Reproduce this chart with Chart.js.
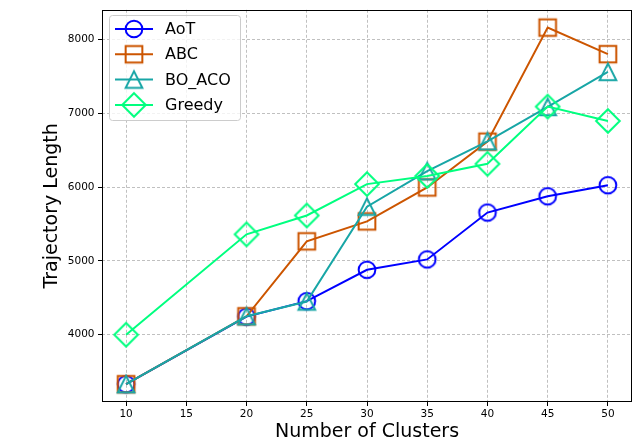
<!DOCTYPE html>
<html><head><meta charset="utf-8">
<script src="https://cdn.jsdelivr.net/npm/chart.js@4.4.0/dist/chart.umd.min.js"></script>
<style>html,body{margin:0;padding:0;background:#fff}#wrap{width:636px;height:443px;position:relative}</style>
</head><body><div id="wrap"><canvas id="c" width="636" height="443"></canvas></div>
<script>
// ---- data ----
const clusters = [10, 20, 25, 30, 35, 40, 45, 50];
const aot    = [3330, 4245, 4455, 4880, 5020, 5655, 5875, 6025];
const abc    = [3330, 4250, 5265, 5535, 5995, 6615, 8160, 7800];
const boaco  = [3330, 4250, 4450, 5735, 6215, 6620, 7085, 7560];
const greedy = [4000, 5360, 5615, 6040, 6150, 6315, 7090, 6895];
const seriesNames = ['AoT', 'ABC', 'BO_ACO', 'Greedy'];
const xTicks = [10, 15, 20, 25, 30, 35, 40, 45, 50];
const yTicks = [4000, 5000, 6000, 7000, 8000];
const xTitle = 'Number of Clusters';
const yTitle = 'Trajectory Length';

// ---- styles ----
const colors = ['#0000ff', '#cc5500', '#18a6a6', '#00ff7f'];
const shapes = ['circle', 'square', 'triangle', 'diamond'];
const FONT = "'DejaVu Sans', sans-serif";

function makeMarker(shape, color) {
  const s = 32, c = document.createElement('canvas');
  c.width = s; c.height = s;
  const g = c.getContext('2d');
  g.translate(s / 2, s / 2);
  g.strokeStyle = color; g.lineWidth = 2; g.lineJoin = 'miter';
  const ms = 16.7, h = ms / 2;
  g.beginPath();
  if (shape === 'circle') g.arc(0, 0, h, 0, Math.PI * 2);
  else if (shape === 'square') g.rect(-h, -h, ms, ms);
  else if (shape === 'triangle') { g.moveTo(0, -h); g.lineTo(-h, h); g.lineTo(h, h); g.closePath(); }
  else { const d = ms * Math.SQRT2 / 2; g.moveTo(0, -d); g.lineTo(d, 0); g.lineTo(0, d); g.lineTo(-d, 0); g.closePath(); }
  g.stroke();
  return c;
}
const markers = shapes.map((s, i) => makeMarker(s, colors[i]));
const allSeries = [aot, abc, boaco, greedy];

const datasets = allSeries.map((vals, i) => ({
  label: seriesNames[i],
  data: clusters.map((x, j) => ({ x: x, y: vals[j] })),
  borderColor: colors[i],
  backgroundColor: 'rgba(0,0,0,0)',
  borderWidth: 2,
  pointStyle: markers[i],
  pointRadius: 8,
  pointHoverRadius: 8,
  tension: 0,
  order: 3 - i
}));

const framePlugin = {
  id: 'frameLegend',
  afterDraw(chart) {
    const ctx = chart.ctx, a = chart.chartArea;
    ctx.save();
    ctx.strokeStyle = '#000'; ctx.lineWidth = 1;
    ctx.strokeRect(Math.round(a.left) + 0.5, Math.round(a.top) + 0.5, Math.round(a.right - a.left) - 1, Math.round(a.bottom - a.top) - 1);
    // legend
    const bx = 109.5, by = 15.5, bw = 131, bh = 105, r = 3;
    ctx.beginPath();
    ctx.moveTo(bx + r, by); ctx.lineTo(bx + bw - r, by); ctx.arcTo(bx + bw, by, bx + bw, by + r, r);
    ctx.lineTo(bx + bw, by + bh - r); ctx.arcTo(bx + bw, by + bh, bx + bw - r, by + bh, r);
    ctx.lineTo(bx + r, by + bh); ctx.arcTo(bx, by + bh, bx, by + bh - r, r);
    ctx.lineTo(bx, by + r); ctx.arcTo(bx, by, bx + r, by, r); ctx.closePath();
    ctx.fillStyle = 'rgba(255,255,255,0.8)'; ctx.fill();
    ctx.strokeStyle = '#cccccc'; ctx.lineWidth = 1; ctx.stroke();
    chart.data.datasets.forEach((ds, i) => {
      const y = 29 + i * 25.3;
      ctx.beginPath(); ctx.strokeStyle = ds.borderColor; ctx.lineWidth = 2;
      ctx.moveTo(115, y); ctx.lineTo(153, y); ctx.stroke();
      const m = ds.pointStyle;
      ctx.drawImage(m, 134 - m.width / 2, y - m.height / 2);
      ctx.fillStyle = '#000'; ctx.font = '16px ' + FONT;
      ctx.textAlign = 'left'; ctx.textBaseline = 'middle';
      ctx.fillText(ds.label, 165, y + 1);
    });
    ctx.restore();
  }
};

new Chart(document.getElementById('c'), {
  type: 'line',
  data: { datasets: datasets },
  options: {
    responsive: false, animation: false, devicePixelRatio: 1,
    layout: { autoPadding: false, padding: { top: 7, right: 4, left: 0, bottom: 0 } },
    plugins: { legend: { display: false }, tooltip: { enabled: false } },
    scales: {
      x: {
        type: 'linear', min: 8, max: 52,
        afterBuildTicks: s => { s.ticks = xTicks.map(v => ({ value: v })); },
        afterFit: s => { s.height = 41; },
        ticks: { font: { family: FONT, size: 10.5 }, color: '#000', padding: 2, maxRotation: 0, autoSkip: false, callback: v => String(v) },
        grid: { color: '#b0b0b0', lineWidth: 0.8, tickLength: 4, tickColor: '#000', tickWidth: 1, tickBorderDash: [] },
        border: { display: false, dash: [3, 2] },
        title: { display: true, text: xTitle, color: '#000', font: { family: FONT, size: 19 }, padding: { top: 0, bottom: 0 } }
      },
      y: {
        type: 'linear', min: 3089, max: 8401,
        afterBuildTicks: s => { s.ticks = yTicks.map(v => ({ value: v })); },
        afterFit: s => { s.width = 102; },
        ticks: { font: { family: FONT, size: 10.5 }, color: '#000', padding: 3.5, autoSkip: false, callback: v => String(v) },
        grid: { color: '#b0b0b0', lineWidth: 0.8, tickLength: 4, tickColor: '#000', tickWidth: 1, tickBorderDash: [] },
        border: { display: false, dash: [3, 2] },
        title: { display: true, text: yTitle, color: '#000', font: { family: FONT, size: 19 }, padding: { top: 40.5, bottom: 0 } }
      }
    }
  },
  plugins: [framePlugin]
});
</script>
</body></html>
